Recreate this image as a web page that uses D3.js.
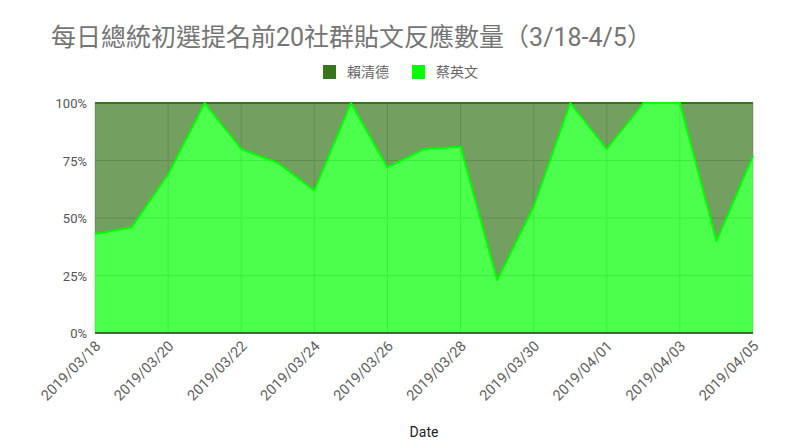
<!DOCTYPE html>
<html>
<head>
<meta charset="utf-8">
<script src="https://cdn.jsdelivr.net/npm/d3@7"></script>
<style>
  body { margin: 0; background: #fff; }
  text { font-family: Roboto, "Noto Sans CJK TC", sans-serif; }
</style>
</head>
<body>
<svg id="chart" width="800" height="441"></svg>
<script>
// daily share of reactions (percent)
var dates = ["2019/03/18", "2019/03/19", "2019/03/20", "2019/03/21", "2019/03/22",
    "2019/03/23", "2019/03/24", "2019/03/25", "2019/03/26", "2019/03/27",
    "2019/03/28", "2019/03/29", "2019/03/30", "2019/03/31", "2019/04/01",
    "2019/04/02", "2019/04/03", "2019/04/04", "2019/04/05"];
var tsai = [43, 46, 69, 100, 80, 74, 62, 100, 72, 80, 81, 23, 55, 100, 80, 100, 100, 40, 77];
var lai = [57, 54, 31, 0, 20, 26, 38, 0, 28, 20, 19, 77, 45, 0, 20, 0, 0, 60, 23];
var seriesNames = ["賴清德", "蔡英文"];
var seriesColors = ["#38761d", "#00ff00"];
var yTicks = [0, 0.25, 0.5, 0.75, 1];

var svg = d3.select("#chart");
var margin = {top: 103, right: 47, bottom: 108, left: 95};
var width = +svg.attr("width") - margin.left - margin.right;
var height = +svg.attr("height") - margin.top - margin.bottom;

var parse = d3.timeParse("%Y/%m/%d");
var rows = dates.map(function (d, i) {
    return {date: parse(d), lai: lai[i], tsai: tsai[i]};
});

// bottom layer is 蔡英文, top layer 賴清德
var stack = d3.stack().keys(["tsai", "lai"]).offset(d3.stackOffsetExpand);
var layers = stack(rows);

var x = d3.scaleTime()
        .domain(d3.extent(rows, function (d) { return d.date; }))
        .range([0, width]);
var y = d3.scaleLinear().domain([0, 1]).range([height, 0]);

var tickDates = rows.filter(function (d, i) { return i % 2 == 0; })
        .map(function (d) { return d.date; });

svg.append("text")
        .attr("x", 51).attr("y", 46)
        .attr("font-size", 25)
        .attr("fill", "#757575")
        .text("每日總統初選提名前20社群貼文反應數量（3/18-4/5）");

// legend
var legend = svg.append("g").attr("transform", "translate(323,65)");
var legendX = [0, 89];
seriesNames.forEach(function (name, i) {
    var item = legend.append("g").attr("transform", "translate(" + legendX[i] + ",0)");
    item.append("rect").attr("width", 13).attr("height", 14).attr("fill", seriesColors[i]);
    item.append("text").attr("x", 24).attr("y", 12)
            .attr("font-size", 14).attr("fill", "#666")
            .text(name);
});

var g = svg.append("g").attr("transform", "translate(" + margin.left + "," + margin.top + ")");

// gridlines
g.append("g").selectAll("line.h")
        .data(yTicks).enter().append("line")
        .attr("x1", 0).attr("x2", width)
        .attr("y1", function (d) { return y(d); })
        .attr("y2", function (d) { return y(d); })
        .attr("stroke", "#c4c4c4");
g.append("g").selectAll("line.v")
        .data(tickDates).enter().append("line")
        .attr("x1", function (d) { return x(d); })
        .attr("x2", function (d) { return x(d); })
        .attr("y1", 0).attr("y2", height)
        .attr("stroke", "#c4c4c4");

var area = d3.area()
        .x(function (d) { return x(d.data.date); })
        .y0(function (d) { return y(d[0]); })
        .y1(function (d) { return y(d[1]); });
var line = d3.line()
        .x(function (d) { return x(d.data.date); })
        .y(function (d) { return y(d[1]); });

var colorOf = {tsai: seriesColors[1], lai: seriesColors[0]};

g.selectAll("path.area")
        .data(layers).enter().append("path")
        .attr("class", "area")
        .attr("d", area)
        .attr("fill", function (d) { return colorOf[d.key]; })
        .attr("fill-opacity", 0.7);

// draw the top layer's line first so the bright line sits on top
g.selectAll("path.line")
        .data(layers.slice().reverse()).enter().append("path")
        .attr("class", "line")
        .attr("d", line)
        .attr("fill", "none")
        .attr("stroke", function (d) { return colorOf[d.key]; })
        .attr("stroke-width", 2)
        .attr("stroke-linejoin", "round");

// y axis labels
g.append("g").selectAll("text")
        .data(yTicks).enter().append("text")
        .attr("x", -8)
        .attr("y", function (d) { return y(d) + 5; })
        .attr("text-anchor", "end")
        .attr("font-size", 13)
        .attr("fill", "#555")
        .text(d3.format(".0%"));

// baseline
g.append("line")
        .attr("x1", 0).attr("x2", width)
        .attr("y1", height).attr("y2", height)
        .attr("stroke", "#333").attr("stroke-width", 1.5);

var xAxis = g.append("g")
        .attr("transform", "translate(0," + height + ")")
        .call(d3.axisBottom(x).tickValues(tickDates).tickSize(0).tickFormat(d3.timeFormat("%Y/%m/%d")));
xAxis.select(".domain").remove();
xAxis.selectAll("text")
        .attr("font-family", "Roboto, sans-serif")
        .attr("font-size", 14.5)
        .attr("fill", "#5f5f5f")
        .attr("text-anchor", "end")
        .attr("dy", null)
        .attr("y", 0)
        .attr("transform", "translate(6,14) rotate(-45)");

svg.append("text")
        .attr("x", margin.left + width / 2).attr("y", 437)
        .attr("text-anchor", "middle")
        .attr("font-size", 14)
        .attr("fill", "#222")
        .text("Date");
</script>
</body>
</html>
